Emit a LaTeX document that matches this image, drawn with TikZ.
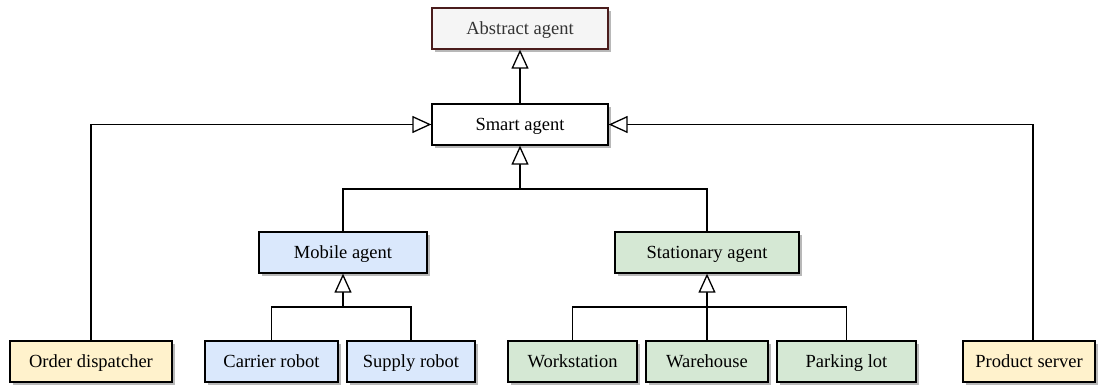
\documentclass[tikz,border=0pt]{standalone}
\usepackage{fontspec}
\setmainfont{Liberation Serif}
\usetikzlibrary{arrows.meta,shadows}
\definecolor{absfill}{HTML}{F5F5F5}
\definecolor{absline}{HTML}{4A1C1C}
\definecolor{abstext}{HTML}{333333}
\definecolor{mobfill}{HTML}{DAE8FC}
\definecolor{statfill}{HTML}{D5E8D4}
\definecolor{extfill}{HTML}{FFF2CC}
\definecolor{shadowgray}{HTML}{B8B8B8}
\tikzset{
  box/.style={draw=black, line width=1.3pt, minimum height=41pt, inner sep=0pt,
    font=\fontsize{18.5}{22}\selectfont, text height=12pt, text depth=0pt,
    drop shadow={shadow xshift=3pt, shadow yshift=-3pt, fill=shadowgray, opacity=1}},
  absbox/.style={box, draw=absline, fill=absfill, text=abstext},
  smartbox/.style={box, fill=white},
  mobbox/.style={box, fill=mobfill},
  statbox/.style={box, fill=statfill},
  extbox/.style={box, fill=extfill},
  link/.style={line width=1.4pt, draw=black},
  inherit/.style={link, -{Triangle[open, fill=white, length=19pt, width=17pt, line width=1.3pt]}},
}
\begin{document}
\begin{tikzpicture}[x=1pt, y=-1pt]
\useasboundingbox (0,0) rectangle (1102,385);

% class hierarchy
\node[absbox, minimum width=176pt] (abs) at (520,28.5) {Abstract agent};
\node[smartbox, minimum width=176pt] (smart) at (520,124.5) {Smart agent};
\node[mobbox, minimum width=168pt] (mobile) at (343,252.5) {Mobile agent};
\node[statbox, minimum width=184pt] (stat) at (707,252.5) {Stationary agent};

\node[extbox, minimum width=162pt] (order) at (91,361.5) {Order dispatcher};
\node[mobbox, minimum width=133pt] (carrier) at (271.5,361.5) {Carrier robot};
\node[mobbox, minimum width=128pt] (supply) at (411,361.5) {Supply robot};
\node[statbox, minimum width=129pt] (work) at (572.5,361.5) {Workstation};
\node[statbox, minimum width=122pt] (ware) at (707,361.5) {Warehouse};
\node[statbox, minimum width=139pt] (park) at (846.5,361.5) {Parking lot};
\node[extbox, minimum width=132pt] (prod) at (1029,361.5) {Product server};

% junction points of the inheritance trees
\coordinate (j1) at (520,189);
\coordinate (j2) at (343,307);
\coordinate (j3) at (707,307);

% generalisation connectors
\draw[inherit] (smart.north) -- (abs.south);
\draw[inherit] (order.north) |- (smart.west);
\draw[inherit] ([xshift=4pt]prod.north) |- (smart.east);

\draw[link] (mobile.north) |- (j1) -| (stat.north);
\draw[inherit] (j1) -- (smart.south);

\draw[link] (carrier.north) |- (j2) -| (supply.north);
\draw[inherit] (j2) -- (mobile.south);

\draw[link] (work.north) |- (j3) -| (park.north);
\draw[inherit] (ware.north) -- (stat.south);
\end{tikzpicture}
\end{document}
